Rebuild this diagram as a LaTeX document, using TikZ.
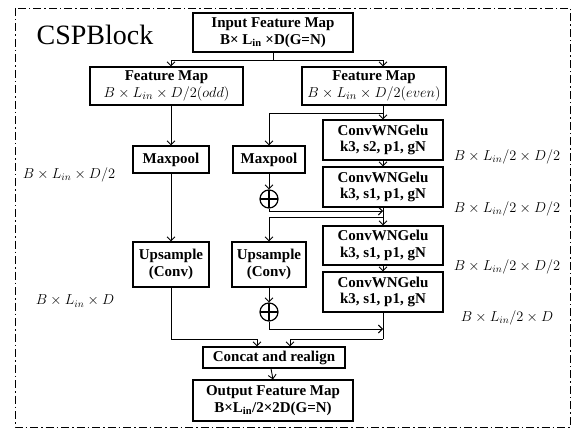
\documentclass[tikz,border=0pt]{standalone}
\usepackage{fontspec}
\setmainfont{Liberation Serif}
\usetikzlibrary{arrows.meta}
\begin{document}
\begin{tikzpicture}[x=1pt,y=-1pt,
  box/.style={draw, line width=1.2pt, align=center, inner sep=0pt,
    font=\fontsize{15}{16.5}\selectfont\bfseries},
  arr/.style={-{Straight Barb[length=4pt,width=8pt]}, line width=0.9pt},
  ln/.style={line width=0.9pt},
  dimlabel/.style={font=\fontsize{14.5}{16}\selectfont},
  addop/.style={circle, draw, line width=1.2pt, minimum size=18pt, inner sep=0pt,
    path picture={\draw[line width=1.2pt]
      (path picture bounding box.north) -- (path picture bounding box.south)
      (path picture bounding box.west) -- (path picture bounding box.east);}}]
\useasboundingbox (0,0) rectangle (580,430);
% frame of the block
\draw[line width=0.8pt, dash pattern=on 8pt off 3pt on 1.5pt off 3pt] (15,8) rectangle (570,427);
\node[font=\fontsize{28}{30}\selectfont] (title) at (95,35) {CSPBlock};

% boxes
\node[box, minimum width=160pt, minimum height=39pt] (in) at (273,32.5)
  {Input Feature Map\\B× L\textsubscript{in} ×D(G=N)};
\node[box, minimum width=153pt, minimum height=38pt] (fl) at (166.5,86)
  {Feature Map\\\mdseries$B\times L_{in}\times D/2(odd)$};
\node[box, minimum width=144pt, minimum height=38pt] (fr) at (374,86)
  {Feature Map\\\mdseries$B\times L_{in}\times D/2(even)$};
\node[box, minimum width=76pt, minimum height=27pt] (mpl) at (171,159.5) {Maxpool};
\node[box, minimum width=72pt, minimum height=27pt] (mpr) at (269,159.5) {Maxpool};
\node[box, minimum width=120pt, minimum height=40pt] (c1) at (383,140) {ConvWNGelu\\k3, s2, p1, gN};
\node[box, minimum width=120pt, minimum height=40pt] (c2) at (383,187) {ConvWNGelu\\k3, s1, p1, gN};
\node[box, minimum width=120pt, minimum height=39pt] (c3) at (383,245.5) {ConvWNGelu\\k3, s1, p1, gN};
\node[box, minimum width=120pt, minimum height=40pt] (c4) at (383,292) {ConvWNGelu\\k3, s1, p1, gN};
\node[box, minimum width=76pt, minimum height=45pt] (upl) at (171,264.5) {Upsample\\(Conv)};
\node[box, minimum width=74pt, minimum height=45pt] (upr) at (269,264.5) {Upsample\\(Conv)};
\node[addop] (o1) at (269,199) {};
\node[addop] (o2) at (269,312) {};
\node[box, minimum width=142pt, minimum height=21pt] (cat) at (274,357.5) {Concat and realign};
\node[box, minimum width=160pt, minimum height=41pt] (out) at (273,400.5)
  {Output Feature Map\\B×L\textsubscript{in}/2×2D(G=N)};

% tensor shapes
\node[dimlabel] (s1) at (69,175) {$B\times L_{in}\times D/2$};
\node[dimlabel] (s2) at (75,301) {$B\times L_{in}\times D$};
\node[dimlabel] (s3) at (507,157) {$B\times L_{in}/2\times D/2$};
\node[dimlabel] (s4) at (507,209) {$B\times L_{in}/2\times D/2$};
\node[dimlabel] (s5) at (507,267) {$B\times L_{in}/2\times D/2$};
\node[dimlabel] (s6) at (507,318) {$B\times L_{in}/2\times D$};

% junction points
\coordinate (j0) at (273,60);
\coordinate (j1) at (383,113);
\coordinate (j2) at (383,211);
\coordinate (j3) at (383,217);
\coordinate (j4) at (383,329);
\coordinate (j5) at (383,339);
\coordinate (j6) at (171,339);

% connectors
\draw[ln] (in.south) -- (j0);
\draw[arr] (j0) -| ([xshift=4.5pt]fl.north);
\draw[arr] (j0) -| ([xshift=9pt]fr.north);
\draw[arr] ([xshift=4.5pt]fl.south) -- (mpl.north);
\draw[arr] (mpl.south) -- (upl.north);
\draw[arr] ([xshift=9pt]fr.south) -- (c1.north);
\draw[arr] (j1) -| (mpr.north);
\draw[arr] (c1.south) -- (c2.north);
\draw[arr] (mpr.south) -- (o1.north);
\draw[arr] (o1.south) |- (j2);
\draw[arr] (c2.south) -- (c3.north);
\draw[arr] (j3) -| (upr.north);
\draw[arr] (c3.south) -- (c4.north);
\draw[arr] (upr.south) -- (o2.north);
\draw[arr] (o2.south) |- (j4);
\draw[ln] (c4.south) -- (j5);
\draw[arr] (j5) -| ([xshift=16pt]cat.north);
\draw[ln] (upl.south) -- (j6);
\draw[arr] (j6) -| ([xshift=-17pt]cat.north);
\draw[arr] ([xshift=-3pt]cat.south) -- (out.north);
\end{tikzpicture}
\end{document}
